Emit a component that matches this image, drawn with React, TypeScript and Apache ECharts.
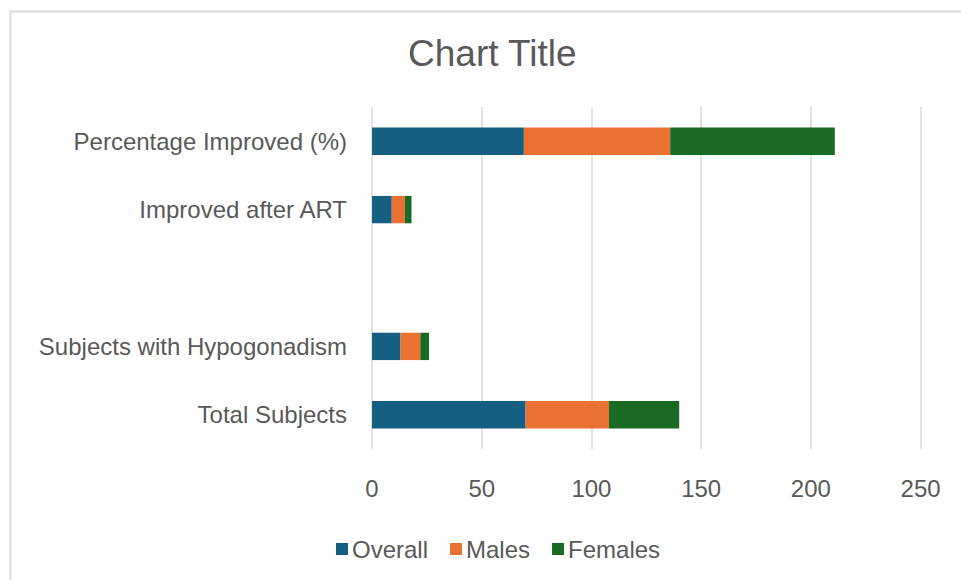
import React, { useEffect, useRef } from "react";
import * as echarts from "echarts";

const categories = [
  "Total Subjects",
  "Subjects with Hypogonadism",
  "",
  "Improved after ART",
  "Percentage Improved (%)",
];
const overall = [70, 13, null, 9, 69.2];
const males = [38, 9, null, 6, 66.7];
const females = [32, 4, null, 3, 75];
const seriesNames = ["Overall", "Males", "Females"];
const colors = ["#156082", "#E97132", "#196B24"];
const xTicks = { min: 0, max: 250, interval: 50 };

const FONT = "'Liberation Sans', Arial, sans-serif";
const TEXT = "#595959";

export default function App() {
  const ref = useRef<HTMLDivElement>(null);
  useEffect(() => {
    if (!ref.current) return;
    const chart = echarts.init(ref.current, null, { renderer: "svg" });
    const values = [overall, males, females];
    chart.setOption({
      animation: false,
      backgroundColor: "#ffffff",
      textStyle: { fontFamily: FONT },
      title: {
        text: "Chart Title",
        left: 403,
        top: 30,
        textStyle: { fontFamily: FONT, fontSize: 37, fontWeight: "normal", color: TEXT },
      },
      graphic: [
        {
          type: "rect",
          shape: { x: 10.5, y: 11.5, width: 1000, height: 700 },
          style: { fill: "none", stroke: "#d9d9d9", lineWidth: 2 },
          silent: true,
        },
      ],
      legend: {
        left: 331,
        top: 532,
        itemWidth: 12,
        itemHeight: 12,
        itemGap: 22,
        icon: "rect",
        data: seriesNames,
        textStyle: { fontFamily: FONT, fontSize: 24, color: TEXT, padding: [0, 0, 0, -1] },
      },
      grid: { left: 372, right: 40.4, top: 107, bottom: 131, containLabel: false },
      xAxis: {
        type: "value",
        min: xTicks.min,
        max: xTicks.max,
        interval: xTicks.interval,
        axisLine: { show: false },
        axisTick: { show: false },
        splitLine: { show: true, lineStyle: { color: "#d9d9d9", width: 1.5 } },
        axisLabel: { margin: 27, fontFamily: FONT, fontSize: 24, color: TEXT },
      },
      yAxis: {
        type: "category",
        data: categories,
        axisLine: { show: false },
        axisTick: { show: false },
        axisLabel: { margin: 25, fontFamily: FONT, fontSize: 24, color: TEXT },
      },
      series: seriesNames.map((name, i) => ({
        name,
        type: "bar",
        stack: "total",
        barCategoryGap: "60%",
        data: values[i],
        itemStyle: { color: colors[i] },
      })),
    });
    return () => chart.dispose();
  }, []);
  return (
    <div
      ref={ref}
      style={{ position: "absolute", left: 0, top: 0, width: 961, height: 580 }}
    />
  );
}
